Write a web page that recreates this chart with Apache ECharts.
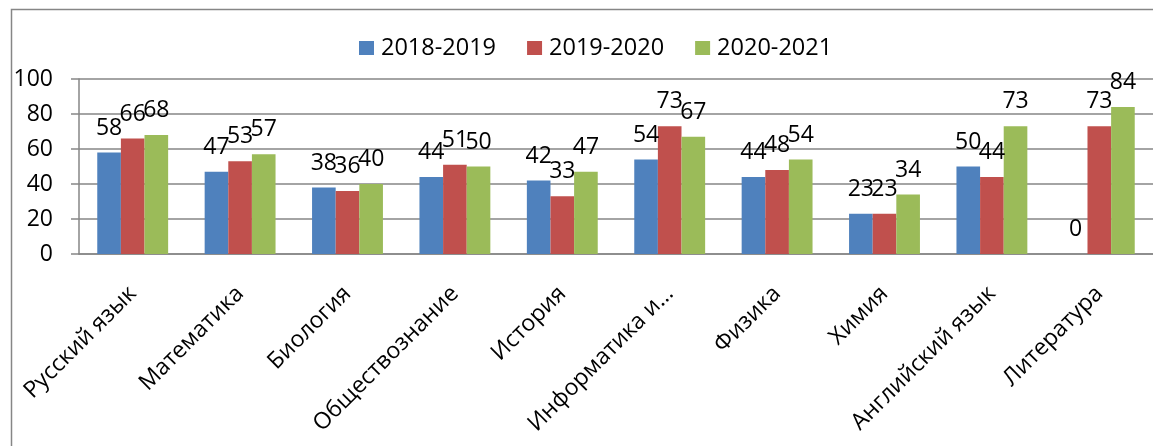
<!DOCTYPE html>
<html>
<head>
<meta charset="utf-8">
<script src="https://cdn.jsdelivr.net/npm/echarts@6/dist/echarts.min.js"></script>
<style>
  html, body { margin: 0; padding: 0; background: #fff; }
  #chart { width: 1153px; height: 446px; }
</style>
</head>
<body>
<div id="chart"></div>
<script>
const subjects = ['Русский язык', 'Математика', 'Биология', 'Обществознание', 'История',
  'Информатика и…', 'Физика', 'Химия', 'Английский язык', 'Литература'];
const years = ['2018-2019', '2019-2020', '2020-2021'];
const values1819 = [58, 47, 38, 44, 42, 54, 44, 23, 50, 0];
const values1920 = [66, 53, 36, 51, 33, 73, 48, 23, 44, 73];
const values2021 = [68, 57, 40, 50, 47, 67, 54, 34, 73, 84];
const colors = ['#4F81BD', '#C0504D', '#9BBB59'];

let myChart = echarts.init(document.getElementById('chart'));
const font = 'Open Sans';
const gray = '#868686';

let series = [values1819, values1920, values2021].map(function(vals, i){
  return {
    name: years[i],
    type: 'bar',
    data: vals,
    barGap: '0%',
    barCategoryGap: '34%',
    itemStyle: { color: colors[i] },
    label: {
      show: true,
      position: 'top',
      distance: 13,
      color: '#000',
      fontFamily: font,
      fontSize: 23
    }
  };
});

let options = {
  animation: false,
  color: colors,
  textStyle: { fontFamily: font },
  graphic: [{
    type: 'rect',
    left: 9, top: 7,
    shape: { width: 1300, height: 600 },
    style: { fill: 'none', stroke: gray, lineWidth: 1.5 },
    silent: true
  }],
  legend: {
    left: 359,
    top: 36,
    padding: 0,
    itemWidth: 15,
    itemHeight: 14,
    itemGap: 31,
    icon: 'rect',
    textStyle: { fontFamily: font, fontSize: 23.5, color: '#000', padding: [0, 0, 0, 2] },
    data: years
  },
  grid: { left: 79, top: 79, width: 1080, height: 175 },
  xAxis: {
    type: 'category',
    data: subjects,
    axisLine: { lineStyle: { color: gray, width: 1.5 } },
    axisTick: { length: 7, lineStyle: { color: gray, width: 1.5 } },
    axisLabel: {
      rotate: 45,
      interval: 0,
      margin: 36,
      color: '#000',
      fontFamily: font,
      fontSize: 23
    }
  },
  yAxis: {
    type: 'value',
    min: 0,
    max: 100,
    interval: 20,
    axisLine: { show: true, lineStyle: { color: gray, width: 1.5 } },
    axisTick: { show: true, length: 8, lineStyle: { color: gray, width: 1.5 } },
    splitLine: { lineStyle: { color: gray, width: 1.5 } },
    axisLabel: { margin: 26, color: '#000', fontFamily: font, fontSize: 23 }
  },
  series: series
};

myChart.setOption(options);
</script>
</body>
</html>
